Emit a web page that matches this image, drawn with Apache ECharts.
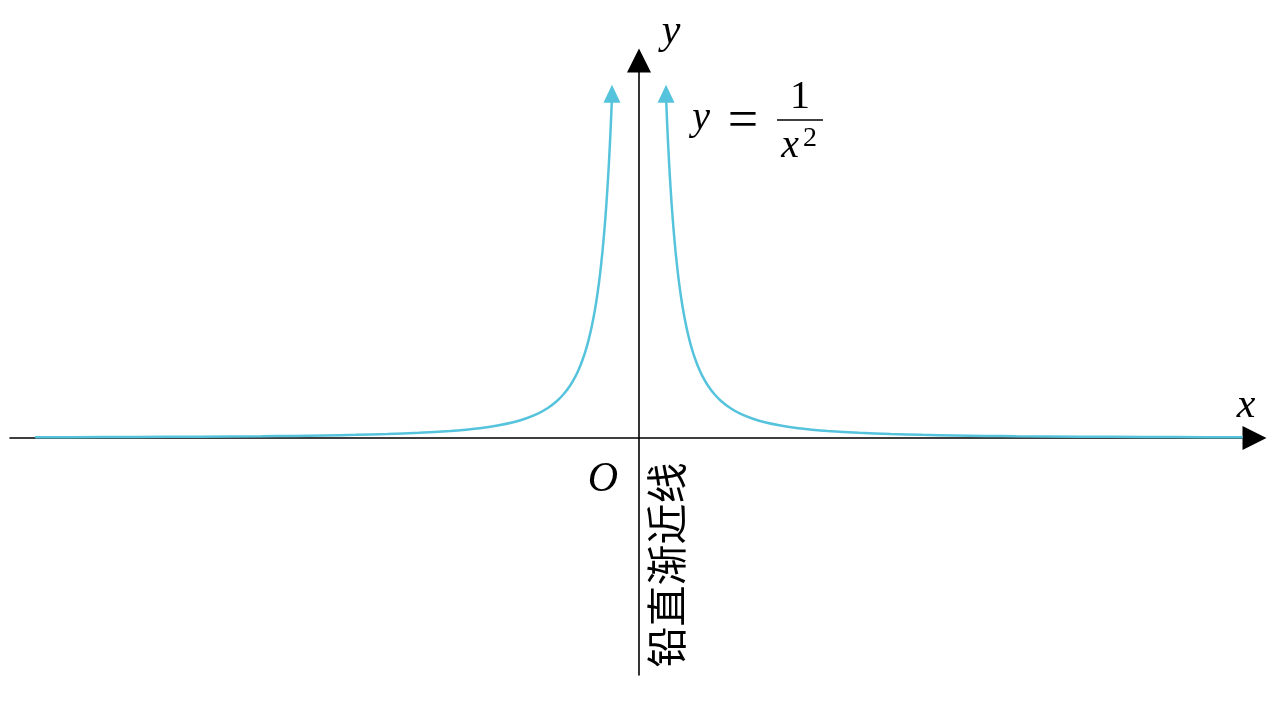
<!DOCTYPE html>
<html>
<head>
<meta charset="utf-8">
<script src="https://cdn.jsdelivr.net/npm/echarts@6/dist/echarts.min.js"></script>
<style>
html,body{margin:0;padding:0;background:#fff;}
#chart{width:1280px;height:720px;}
</style>
</head>
<body>
<div id="chart"></div>
<script>
// Left branch of y = 1/x^2
const leftX = [-9.6, -9, -8, -7, -6, -5.5, -5, -4.5, -4, -3.5, -3, -2.75, -2.5, -2.25, -2, -1.8, -1.6, -1.45, -1.3, -1.2, -1.1, -1.0, -0.95, -0.9, -0.85, -0.8, -0.75, -0.7, -0.66, -0.62, -0.58, -0.55, -0.52, -0.49, -0.47, -0.45, -0.43];
const leftY = [0.011, 0.012, 0.016, 0.020, 0.028, 0.033, 0.040, 0.049, 0.063, 0.082, 0.111, 0.132, 0.160, 0.198, 0.250, 0.309, 0.391, 0.476, 0.592, 0.694, 0.826, 1.0, 1.108, 1.235, 1.384, 1.563, 1.778, 2.041, 2.296, 2.601, 2.973, 3.306, 3.698, 4.165, 4.527, 4.938, 5.408];
// Right branch
const rightX = [0.43, 0.45, 0.47, 0.49, 0.52, 0.55, 0.58, 0.62, 0.66, 0.7, 0.75, 0.8, 0.85, 0.9, 0.95, 1.0, 1.1, 1.2, 1.3, 1.45, 1.6, 1.8, 2, 2.25, 2.5, 2.75, 3, 3.5, 4, 4.5, 5, 5.5, 6, 7, 8, 9, 9.6];
const rightY = [5.408, 4.938, 4.527, 4.165, 3.698, 3.306, 2.973, 2.601, 2.296, 2.041, 1.778, 1.563, 1.384, 1.235, 1.108, 1.0, 0.826, 0.694, 0.592, 0.476, 0.391, 0.309, 0.250, 0.198, 0.160, 0.132, 0.111, 0.082, 0.063, 0.049, 0.040, 0.033, 0.028, 0.020, 0.016, 0.012, 0.011];
// Axis extents
const xRange = [-10, 9.785];
const yRange = [-3.768, 6];
// Texts
const axisNameX = 'x';
const axisNameY = 'y';
const originLabel = 'O';
const asymptoteLabel = '铅直渐近线';

const curveColor = '#56c3dd';
const mathFont = '"Liberation Serif", "DejaVu Serif", serif';

const leftData = leftX.map((x, i) => [x, leftY[i]]);
const rightData = rightX.map((x, i) => [x, rightY[i]]);
const arrowData = [leftData[leftData.length - 1], rightData[0]];

const chart = echarts.init(document.getElementById('chart'));

const axisCommon = {
  axisLine: {
    show: true,
    onZero: true,
    symbol: ['none', 'triangle'],
    symbolSize: [24, 24],
    lineStyle: { color: '#000', width: 1.6 }
  },
  axisTick: { show: false },
  axisLabel: { show: false },
  splitLine: { show: false }
};

chart.setOption({
  animation: false,
  backgroundColor: '#fff',
  grid: { left: 10, right: 25.5, top: 60.5, bottom: 45 },
  xAxis: Object.assign({ type: 'value', min: xRange[0], max: xRange[1] }, axisCommon),
  yAxis: Object.assign({ type: 'value', min: yRange[0], max: yRange[1] }, axisCommon),
  series: [
    {
      type: 'line', data: leftData, smooth: 0.25, showSymbol: false,
      lineStyle: { color: curveColor, width: 2.5 }, z: 3
    },
    {
      type: 'line', data: rightData, smooth: 0.25, showSymbol: false,
      lineStyle: { color: curveColor, width: 2.5 }, z: 3
    },
    {
      type: 'scatter', data: arrowData, symbol: 'triangle', symbolSize: [17, 18],
      symbolOffset: [0, -4], itemStyle: { color: curveColor, opacity: 1 }, z: 4
    }
  ]
});

const o = chart.convertToPixel({ gridIndex: 0 }, [0, 0]);
const ox = o[0], oy = o[1];

function mathText(text, x, y, size, style) {
  return {
    type: 'text', x: x, y: y, z: 10,
    style: {
      text: text, fill: '#000',
      font: (style || 'italic') + ' ' + size + 'px ' + mathFont,
      align: 'center', verticalAlign: 'middle'
    }
  };
}

chart.setOption({
  graphic: [
    mathText(axisNameY, ox + 32, 32, 42),
    mathText(axisNameX, ox + 607, oy - 32, 42),
    mathText(originLabel, ox - 36, oy + 42, 42),
    // equation y = 1 / x^2
    mathText('y', ox + 62, 118, 40),
    mathText('=', ox + 104, 123, 54, 'normal'),
    mathText('1', ox + 161, 97, 40, 'normal'),
    {
      type: 'line', z: 10,
      shape: { x1: ox + 138, y1: 120, x2: ox + 184, y2: 120 },
      style: { stroke: '#000', lineWidth: 1.6 }
    },
    mathText('x', ox + 151, 146, 40),
    mathText('2', ox + 171, 139, 28, 'normal'),
    {
      type: 'text', x: ox + 27, y: oy + 127, rotation: Math.PI / 2, z: 10,
      style: {
        text: asymptoteLabel, fill: '#000',
        font: '41px "Noto Sans CJK SC"',
        align: 'center', verticalAlign: 'middle'
      }
    }
  ]
});
</script>
</body>
</html>
